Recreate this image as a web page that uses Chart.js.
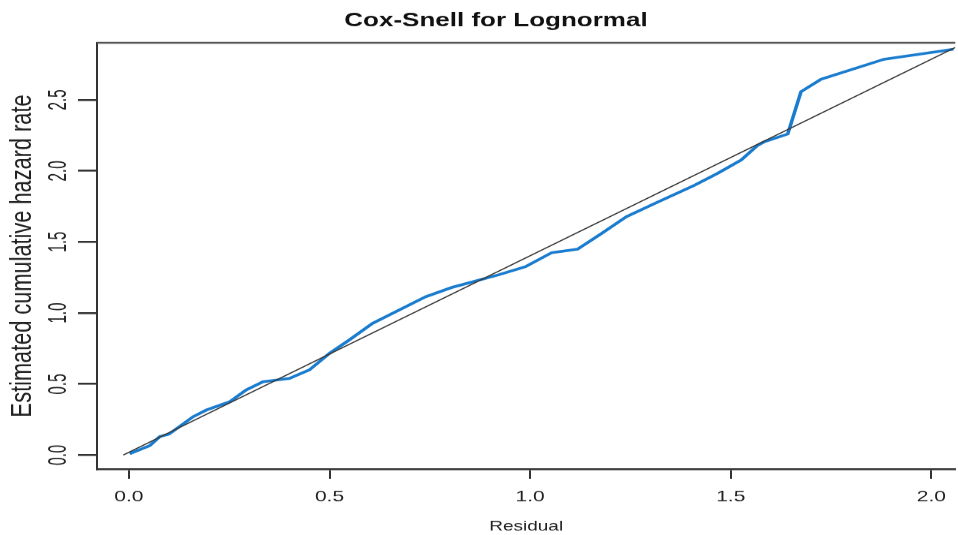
<!DOCTYPE html>
<html>
<head>
<meta charset="utf-8">
<script src="https://cdn.jsdelivr.net/npm/chart.js@4.4.1/dist/chart.umd.min.js"></script>
<style>
  body { margin: 0; background: #fff; }
  #wrap { width: 958px; height: 535px; overflow: hidden; }
  /* the picture is squashed vertically, so draw tall and scale down */
  #plot { transform: scaleY(0.7504); transform-origin: 0 0; }
</style>
</head>
<body>
<div id="wrap"><canvas id="plot" width="958" height="713"></canvas></div>
<script>
// Cox-Snell residuals vs estimated cumulative hazard
const residual = [0.002, 0.052, 0.077, 0.10, 0.16, 0.193, 0.251, 0.292, 0.334, 0.367, 0.40, 0.45,
  0.50, 0.549, 0.607, 0.673, 0.74, 0.805, 0.864, 0.92, 0.988, 1.054, 1.118, 1.178, 1.24, 1.31,
  1.41, 1.468, 1.526, 1.567, 1.584, 1.642, 1.675, 1.725, 1.882, 2.031, 2.055];
const hazard = [0.01, 0.066, 0.13, 0.148, 0.27, 0.317, 0.375, 0.458, 0.516, 0.528, 0.54, 0.60,
  0.716, 0.81, 0.927, 1.02, 1.115, 1.18, 1.225, 1.268, 1.326, 1.425, 1.449, 1.56, 1.678, 1.77,
  1.90, 1.984, 2.077, 2.18, 2.206, 2.26, 2.558, 2.645, 2.786, 2.847, 2.857];

// reference line
const refX = [-0.014, 2.06];
const refY = [0, 2.87];

const xTicks = [0, 0.5, 1.0, 1.5, 2.0];
const yTicks = [0, 0.5, 1.0, 1.5, 2.0, 2.5];

const titleText = 'Cox-Snell for Lognormal';
const xTitle = 'Residual';
const yTitle = 'Estimated cumulative hazard rate';

const toPts = (xs, ys) => xs.map((v, i) => ({x: v, y: ys[i]}));

//plugin: top frame line, rotated y tick labels, main title
const frame = {
  id: 'frame',
  afterDraw(chart) {
    const {ctx, chartArea: a, scales} = chart;
    ctx.save();
    ctx.strokeStyle = '#555';
    ctx.lineWidth = 2.6;
    ctx.beginPath();
    ctx.moveTo(a.left, a.top);
    ctx.lineTo(a.right, a.top);
    ctx.stroke();

    ctx.fillStyle = '#222';
    ctx.font = '25px "Liberation Sans", Arial, sans-serif';
    ctx.textAlign = 'center';
    ctx.textBaseline = 'middle';
    scales.y.ticks.forEach(t => {
      const py = scales.y.getPixelForValue(t.value);
      ctx.save();
      ctx.translate(59, py);
      ctx.rotate(-Math.PI / 2);
      ctx.scale(0.8, 1);
      ctx.fillText(t.value.toFixed(1), 0, 0);
      ctx.restore();
    });

    ctx.fillStyle = '#111';
    ctx.font = 'bold 26px "Liberation Sans", Arial, sans-serif';
    ctx.fillText(titleText, 496, 27.6);
    ctx.restore();
  }
};

new Chart(document.getElementById('plot'), {
  type: 'scatter',
  data: {
    datasets: [{
      data: toPts(refX, refY),
      showLine: true,
      borderColor: '#3a3a3a',
      borderWidth: 1.6,
      pointRadius: 0
    }, {
      data: toPts(residual, hazard),
      showLine: true,
      borderColor: '#1a7ccf',
      borderWidth: 3.6,
      pointRadius: 0
    }]
  },
  options: {
    responsive: false,
    animation: false,
    devicePixelRatio: 1,
    layout: { padding: { top: 57, left: 0, right: 0, bottom: 0 } },
    plugins: {
      legend: { display: false },
      tooltip: { enabled: false },
      title: { display: false }
    },
    scales: {
      x: {
        type: 'linear',
        min: -0.0795,
        max: 2.0596,
        afterBuildTicks: s => { s.ticks = xTicks.map(v => ({value: v})); },
        afterFit: s => { s.height = 88; },
        border: { display: true, color: '#333', width: 2.6 },
        grid: { display: true, drawOnChartArea: false, drawTicks: true, tickLength: 13, color: '#333', lineWidth: 2 },
        ticks: {
          padding: 12,
          color: '#222',
          font: { family: '"Liberation Sans", Arial, sans-serif', size: 21 },
          callback: v => v.toFixed(1)
        },
        title: {
          display: true,
          text: xTitle,
          color: '#222',
          padding: { top: 0, bottom: 0 },
          font: { family: '"Liberation Sans", Arial, sans-serif', size: 19 }
        }
      },
      y: {
        type: 'linear',
        min: -0.098,
        max: 2.902,
        afterBuildTicks: s => { s.ticks = yTicks.map(v => ({value: v})); },
        afterFit: s => { s.width = 97; },
        border: { display: true, color: '#333', width: 2 },
        grid: { display: true, drawOnChartArea: false, drawTicks: true, tickLength: 19, color: '#333', lineWidth: 2.6 },
        ticks: { display: false },
        title: {
          display: true,
          text: yTitle,
          color: '#222',
          padding: { top: 6, bottom: 0 },
          font: { family: '"Liberation Sans", Arial, sans-serif', size: 29 }
        }
      }
    }
  },
  plugins: [frame]
});
</script>
</body>
</html>
